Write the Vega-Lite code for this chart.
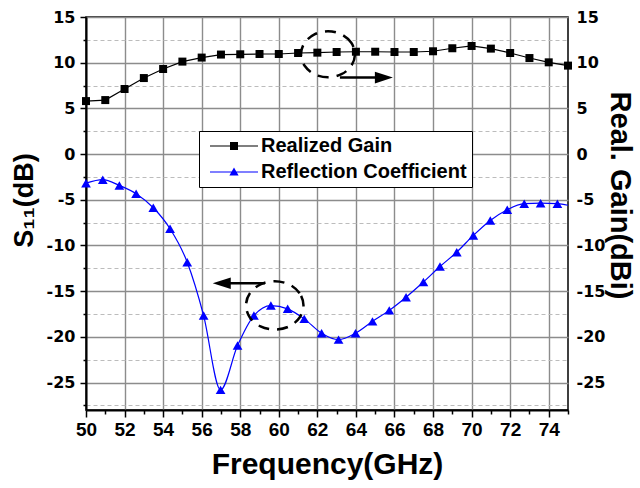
{
  "$schema": "https://vega.github.io/schema/vega-lite/v6.json",
  "width": 482,
  "height": 393,
  "autosize": "none",
  "padding": {"left": 86, "top": 17, "right": 72, "bottom": 78},
  "background": "white",
  "config": {"view": {"stroke": "black", "strokeWidth": 1.5}, "font": "Liberation Sans"},
  "datasets": {
    "gain": [
      {"f": 50, "g": 5.8}, {"f": 51, "g": 5.91}, {"f": 52, "g": 7.12}, {"f": 53, "g": 8.32},
      {"f": 54, "g": 9.31}, {"f": 55, "g": 10.12}, {"f": 56, "g": 10.56}, {"f": 57, "g": 10.89},
      {"f": 58, "g": 10.92}, {"f": 59, "g": 10.95}, {"f": 60, "g": 10.95}, {"f": 61, "g": 11.06},
      {"f": 62, "g": 11.1}, {"f": 63, "g": 11.17}, {"f": 64, "g": 11.2}, {"f": 65, "g": 11.2},
      {"f": 66, "g": 11.17}, {"f": 67, "g": 11.17}, {"f": 68, "g": 11.25}, {"f": 69, "g": 11.58},
      {"f": 70, "g": 11.83}, {"f": 71, "g": 11.54}, {"f": 72, "g": 11.06}, {"f": 73, "g": 10.51},
      {"f": 74, "g": 10.04}, {"f": 75, "g": 9.68}
    ],
    "s11": [
      {"f": 50.0, "s": -3.18}, {"f": 50.87, "s": -2.8}, {"f": 51.73, "s": -3.43}, {"f": 52.6, "s": -4.34},
      {"f": 53.49, "s": -5.87}, {"f": 54.36, "s": -8.17}, {"f": 55.25, "s": -11.83}, {"f": 56.1, "s": -17.67},
      {"f": 56.98, "s": -25.8}, {"f": 57.86, "s": -20.95}, {"f": 58.71, "s": -17.67}, {"f": 59.59, "s": -16.57},
      {"f": 60.46, "s": -16.93}, {"f": 61.32, "s": -18.03}, {"f": 62.22, "s": -19.6}, {"f": 63.1, "s": -20.3},
      {"f": 63.98, "s": -19.6}, {"f": 64.86, "s": -18.3}, {"f": 65.73, "s": -17.1}, {"f": 66.6, "s": -15.66},
      {"f": 67.5, "s": -14.0}, {"f": 68.36, "s": -12.3}, {"f": 69.23, "s": -10.73}, {"f": 70.09, "s": -8.9},
      {"f": 70.97, "s": -7.26}, {"f": 71.85, "s": -6.09}, {"f": 72.73, "s": -5.43}, {"f": 73.58, "s": -5.37},
      {"f": 74.45, "s": -5.43}, {"f": 75.0, "s": -5.6}
    ],
    "ellipses": [
      {"id": "a", "k": 0, "f": 63.95, "v": 10.92}, {"id": "a", "k": 1, "f": 63.76, "v": 12.18},
      {"id": "a", "k": 2, "f": 63.25, "v": 13.1}, {"id": "a", "k": 3, "f": 62.55, "v": 13.44},
      {"id": "a", "k": 4, "f": 61.85, "v": 13.1}, {"id": "a", "k": 5, "f": 61.34, "v": 12.18},
      {"id": "a", "k": 6, "f": 61.15, "v": 10.92}, {"id": "a", "k": 7, "f": 61.34, "v": 9.66},
      {"id": "a", "k": 8, "f": 61.85, "v": 8.74}, {"id": "a", "k": 9, "f": 62.55, "v": 8.4},
      {"id": "a", "k": 10, "f": 63.25, "v": 8.74}, {"id": "a", "k": 11, "f": 63.76, "v": 9.66},
      {"id": "b", "k": 0, "f": 61.28, "v": -16.55}, {"id": "b", "k": 1, "f": 61.08, "v": -15.23},
      {"id": "b", "k": 2, "f": 60.54, "v": -14.26}, {"id": "b", "k": 3, "f": 59.79, "v": -13.9},
      {"id": "b", "k": 4, "f": 59.05, "v": -14.26}, {"id": "b", "k": 5, "f": 58.5, "v": -15.23},
      {"id": "b", "k": 6, "f": 58.3, "v": -16.55}, {"id": "b", "k": 7, "f": 58.5, "v": -17.88},
      {"id": "b", "k": 8, "f": 59.05, "v": -18.85}, {"id": "b", "k": 9, "f": 59.79, "v": -19.2},
      {"id": "b", "k": 10, "f": 60.54, "v": -18.85}, {"id": "b", "k": 11, "f": 61.08, "v": -17.88}
    ],
    "arrows": [
      {"f": 63.17, "f2": 65.5, "v": 8.37},
      {"f": 59.28, "f2": 57.0, "v": -14.13}
    ],
    "heads": [
      {"f": 65.45, "v": 8.37, "dir": "right"},
      {"f": 57.04, "v": -14.13, "dir": "left"}
    ],
    "leg": [
      {"series": "Realized Gain"},
      {"series": "Reflection Coefficient"}
    ]
  },
  "layer": [
    {
      "mark": {"type": "rule", "color": "#ff0000", "strokeWidth": 3.5, "opacity": 0},
      "encoding": {
        "y": {
          "datum": -10, "type": "quantitative",
          "scale": {"domain": [-28, 15], "nice": false, "zero": false},
          "axis": {
            "orient": "left", "title": null,
            "values": [-25, -20, -15, -10, -5, 0, 5, 10, 15],
            "labels": false, "domain": false, "ticks": false,
            "grid": true, "gridColor": "#8c8c8c", "gridWidth": 1.4
          }
        }
      }
    },
    {
      "mark": {"type": "rule", "color": "#ff0000", "strokeWidth": 3.5, "opacity": 0},
      "encoding": {
        "x": {
          "datum": 60, "type": "quantitative",
          "scale": {"domain": [50, 75], "nice": false, "zero": false},
          "axis": {
            "orient": "bottom", "title": null,
            "values": [50, 52, 54, 56, 58, 60, 62, 64, 66, 68, 70, 72, 74],
            "labels": false, "domain": false, "ticks": false,
            "grid": true, "gridColor": "#8c8c8c", "gridWidth": 1.4
          }
        }
      }
    },
    {
      "data": {"name": "s11"},
      "mark": {"type": "line", "color": "#0000ff", "strokeWidth": 1.2, "interpolate": "monotone"},
      "encoding": {
        "x": {
          "field": "f", "type": "quantitative",
          "scale": {"domain": [50, 75], "nice": false, "zero": false},
          "axis": {
            "orient": "bottom",
            "title": "Frequency(GHz)",
            "values": [50, 52, 54, 56, 58, 60, 62, 64, 66, 68, 70, 72, 74],
            "labelExpr": "'' + datum.value",
            "labelFont": "Liberation Sans", "labelFontWeight": "bold", "labelFontSize": 19, "labelColor": "black",
            "labelPadding": 3, "labelFlush": false, "labelOverlap": false,
            "grid": false,
            "tickSize": 7, "tickColor": "black", "tickWidth": 1.5,
            "domainColor": "black", "domainWidth": 2,
            "titleFont": "Liberation Sans", "titleFontWeight": "bold", "titleFontSize": 30, "titleColor": "black",
            "titlePadding": 10
          }
        },
        "y": {
          "field": "s", "type": "quantitative",
          "scale": {"domain": [-28, 15], "nice": false, "zero": false},
          "axis": {
            "orient": "left",
            "title": "S₁₁(dB)",
            "values": [-25, -20, -15, -10, -5, 0, 5, 10, 15],
            "labelExpr": "'' + datum.value",
            "labelFont": "DejaVu Sans", "labelFontWeight": "bold", "labelFontSize": 16, "labelColor": "black",
            "labelPadding": 5, "labelOverlap": false, "labelFlush": false,
            "grid": false,
            "tickSize": 6, "tickColor": "black", "tickWidth": 1.5,
            "domainColor": "black", "domainWidth": 2,
            "titleFont": "Liberation Sans", "titleFontWeight": "bold", "titleFontSize": 27, "titleColor": "black",
            "titleY": 183, "titlePadding": 8
          }
        }
      }
    },
    {
      "data": {"name": "s11"},
      "transform": [{"filter": "datum.f < 74.9"}],
      "mark": {"type": "point", "shape": "triangle-up", "filled": true, "opacity": 1, "color": "#0000ff", "size": 95},
      "encoding": {
        "x": {
          "field": "f", "type": "quantitative",
          "scale": {"domain": [50, 75], "nice": false, "zero": false},
          "axis": {
            "orient": "bottom",
            "title": null, "values": [51, 53, 55, 57, 59, 61, 63, 65, 67, 69, 71, 73, 75],
            "labels": false, "grid": false, "domain": false,
            "tickSize": 4, "tickColor": "black", "tickWidth": 1.5
          }
        },
        "y": {"field": "s", "type": "quantitative", "scale": {"domain": [-28, 15], "nice": false, "zero": false}, "axis": null}
      }
    },
    {
      "data": {"name": "gain"},
      "mark": {"type": "line", "color": "black", "strokeWidth": 1.2},
      "encoding": {
        "x": {"field": "f", "type": "quantitative", "scale": {"domain": [50, 75], "nice": false, "zero": false}, "axis": null},
        "y": {
          "field": "g", "type": "quantitative",
          "scale": {"domain": [-28, 15], "nice": false, "zero": false},
          "axis": {
            "orient": "right",
            "title": "Real. Gain(dBi)",
            "values": [-25, -20, -15, -10, -5, 0, 5, 10, 15],
            "labelExpr": "'' + datum.value",
            "labelFont": "DejaVu Sans", "labelFontWeight": "bold", "labelFontSize": 16, "labelColor": "black",
            "labelPadding": 8, "labelOverlap": false, "labelFlush": false,
            "grid": false, "ticks": false, "domain": false,
            "titleFont": "Liberation Sans", "titleFontWeight": "bold", "titleFontSize": 29, "titleColor": "black",
            "titleAngle": 90, "titleY": 178, "titlePadding": 0
          }
        }
      }
    },
    {
      "data": {"name": "gain"},
      "mark": {"type": "point", "shape": "square", "filled": true, "opacity": 1, "color": "black", "size": 64},
      "encoding": {
        "x": {"field": "f", "type": "quantitative", "scale": {"domain": [50, 75], "nice": false, "zero": false}, "axis": null},
        "y": {"field": "g", "type": "quantitative", "scale": {"domain": [-28, 15], "nice": false, "zero": false}, "axis": null}
      }
    },
    {
      "mark": {"type": "rule", "color": "#ff0000", "strokeWidth": 3.5, "strokeDash": [17, 17]},
      "encoding": {
        "y": {
          "datum": -10, "type": "quantitative",
          "scale": {"domain": [-28, 15], "nice": false, "zero": false},
          "axis": {
            "orient": "left", "title": null,
            "values": [-27.5, -22.5, -17.5, -12.5, -7.5, -2.5, 2.5, 7.5, 12.5],
            "labels": false, "domain": false,
            "grid": true, "gridColor": "#bcbcbc", "gridWidth": 1, "gridDash": [4, 3],
            "tickSize": 3, "tickColor": "black", "tickWidth": 1.5
          }
        }
      }
    },
    {
      "data": {"name": "ellipses"},
      "mark": {"type": "line", "color": "black", "strokeWidth": 2.5, "strokeDash": [11, 8], "interpolate": "cardinal-closed"},
      "encoding": {
        "x": {"field": "f", "type": "quantitative", "scale": {"domain": [50, 75], "nice": false, "zero": false}, "axis": null},
        "y": {"field": "v", "type": "quantitative", "scale": {"domain": [-28, 15], "nice": false, "zero": false}, "axis": null},
        "detail": {"field": "id", "type": "nominal"},
        "order": {"field": "k", "type": "quantitative"}
      }
    },
    {
      "data": {"name": "arrows"},
      "mark": {"type": "rule", "color": "black", "strokeWidth": 2.5},
      "encoding": {
        "x": {"field": "f", "type": "quantitative", "scale": {"domain": [50, 75], "nice": false, "zero": false}, "axis": null},
        "x2": {"field": "f2"},
        "y": {"field": "v", "type": "quantitative", "scale": {"domain": [-28, 15], "nice": false, "zero": false}, "axis": null}
      }
    },
    {
      "data": {"name": "heads"},
      "transform": [{"filter": "datum.dir === 'right'"}],
      "mark": {"type": "point", "shape": "M-1,-0.65L1,0L-1,0.65Z", "filled": true, "opacity": 1, "color": "black", "size": 324},
      "encoding": {
        "x": {"field": "f", "type": "quantitative", "scale": {"domain": [50, 75], "nice": false, "zero": false}, "axis": null},
        "y": {"field": "v", "type": "quantitative", "scale": {"domain": [-28, 15], "nice": false, "zero": false}, "axis": null}
      }
    },
    {
      "data": {"name": "heads"},
      "transform": [{"filter": "datum.dir === 'left'"}],
      "mark": {"type": "point", "shape": "M1,-0.65L-1,0L1,0.65Z", "filled": true, "opacity": 1, "color": "black", "size": 324},
      "encoding": {
        "x": {"field": "f", "type": "quantitative", "scale": {"domain": [50, 75], "nice": false, "zero": false}, "axis": null},
        "y": {"field": "v", "type": "quantitative", "scale": {"domain": [-28, 15], "nice": false, "zero": false}, "axis": null}
      }
    },
    {
      "data": {"name": "leg"},
      "transform": [{"filter": "false"}],
      "mark": {"type": "point", "filled": true, "opacity": 1, "strokeWidth": 0},
      "encoding": {
        "color": {
          "field": "series", "type": "nominal",
          "scale": {"domain": ["Realized Gain", "Reflection Coefficient"], "range": ["black", "#0000ff"]},
          "legend": {
            "title": null, "orient": "none", "legendX": 113, "legendY": 114,
            "strokeColor": "black", "fillColor": "white", "padding": 5,
            "labelFont": "Liberation Sans", "labelFontWeight": "bold", "labelFontSize": 20, "labelColor": "black",
            "labelLimit": 400,
            "symbolSize": 64, "symbolOffset": 20, "labelOffset": 17, "rowPadding": 6, "symbolStrokeWidth": 0
          }
        },
        "shape": {
          "field": "series", "type": "nominal",
          "scale": {
            "domain": ["Realized Gain", "Reflection Coefficient"],
            "range": ["M-6,-0.13H6V0.13H-6Z M-1,-1H1V1H-1Z", "M-6,-0.13H6V0.13H-6Z M0,-1.1L1.15,0.9H-1.15Z"]
          },
          "legend": {
            "title": null, "orient": "none", "legendX": 113, "legendY": 114,
            "strokeColor": "black", "fillColor": "white", "padding": 5,
            "labelFont": "Liberation Sans", "labelFontWeight": "bold", "labelFontSize": 20, "labelColor": "black",
            "labelLimit": 400,
            "symbolSize": 64, "symbolOffset": 20, "labelOffset": 17, "rowPadding": 6, "symbolStrokeWidth": 0
          }
        }
      }
    }
  ],
  "resolve": {"axis": {"x": "independent", "y": "independent"}}
}
